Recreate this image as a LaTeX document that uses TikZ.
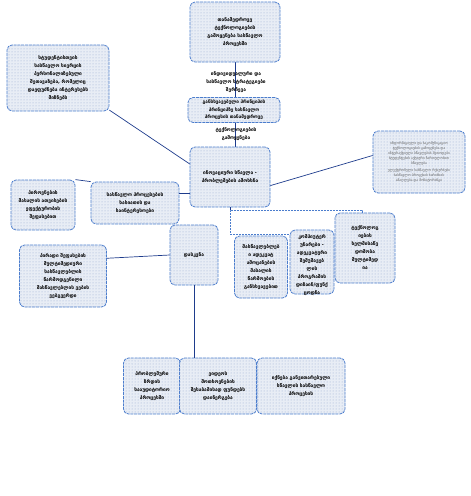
\documentclass[tikz,border=0pt]{standalone}
\usepackage{fontspec}
\newfontfamily\geofont{DejaVu Sans}
\usetikzlibrary{positioning,backgrounds,patterns}
\definecolor{boxfill}{RGB}{232,237,245}
\definecolor{boxdots}{RGB}{150,170,210}
\definecolor{boxline}{RGB}{75,125,205}
\definecolor{linkline}{RGB}{30,60,140}

\begin{document}
\begin{tikzpicture}[x=1pt, y=-1pt,
    cardbox/.style={draw=boxline, fill=boxfill, postaction={pattern=dots, pattern color=boxdots}, rounded corners=5pt, dash pattern=on 3pt off 0.8pt, line width=0.8pt, align=center, inner sep=1pt, font=\geofont\bfseries\fontsize{4.8}{8}\selectfont},
    barbox/.style={draw=boxline, fill=white, dash pattern=on 2pt off 1pt, line width=0.7pt},
    tinytext/.style={align=center, inner sep=0pt, font=\geofont\fontsize{3.4}{5}\selectfont, text=black!65},
    plaintext/.style={align=center, inner sep=0pt, font=\geofont\bfseries\fontsize{4.8}{8}\selectfont},
    link/.style={draw=linkline, line width=0.7pt}
]
\useasboundingbox (0,0) rectangle (471,496);

% upper column
\node[cardbox, minimum width=90pt, minimum height=60pt] (top) at (235,32) {თანამედროვე\\ტექნოლოგიების\\გამოყენება სასწავლო\\პროცესში};
\node[plaintext] (strat) at (236,82) {ინდივიდუალური და\\სასწავლო სტრატეგიები\\შერჩევა};
\node[cardbox, minimum width=92pt, minimum height=25pt, inner sep=0pt, font=\geofont\bfseries\fontsize{4.6}{7.4}\selectfont] (princ) at (234,110) {განსხვავებული პრინციპის\\პრინციპზე სასწავლო\\პროცესის თანამედროვე};
\node[plaintext] (princrest) at (236,134) {ტექნოლოგიების\\გამოყენება};
\node[cardbox, minimum width=80pt, minimum height=60pt] (cen) at (230,177) {ინოვაციური სწავლა -\\პრობლემების ამოხსნა};

% side boxes
\node[cardbox, minimum width=102pt, minimum height=66pt] (lefttop) at (58,78) {სტუდენტისთვის\\სასწავლო სივრცის\\პერსონალიზებული\\შეთავაზება, რომელიც\\დაეფუძნება ინტერესებს\\მიზნებს};
\node[cardbox, minimum width=92pt, minimum height=62pt] (right) at (419,162) {};
\node[tinytext] (righttext) at (419,162) {ინფორმაციული და საკომუნიკაციო\\ტექნოლოგიების გამოყენება და\\ინტერაქტიული სწავლების მეთოდები\\სტუდენტების აქტიური ჩართულობით\\სწავლება\\[2pt]ელექტრონული სასწავლო რესურსები\\სასწავლო პროცესის ხარისხის\\ამაღლება და მონიტორინგი};
\node[cardbox, minimum width=64pt, minimum height=50pt] (pirov) at (43,205) {პიროვნების\\მასალის ათვისების\\ეფექტურობის\\შეფასებით};
\node[cardbox, minimum width=88pt, minimum height=42pt] (sasw) at (135,203) {სასწავლო პროცესების\\ხასიათის და\\საინტერესოები};
\node[cardbox, minimum width=48pt, minimum height=60pt] (dask) at (194,255) {დასკვნა};
\node[cardbox, minimum width=87pt, minimum height=62pt] (leftlow) at (63,276) {პირადი შეფასების\\მულტიმედიური\\სასწავლებლის\\წარმოდგენილი\\მასწავლებლის ვების\\ვებგვერდი};

% right group
\node[barbox, minimum width=132pt, minimum height=24pt] (bar) at (296,222) {};
\node[cardbox, minimum width=53pt, minimum height=62pt] (mas) at (261,267) {მასწავლებლებ\\ი ადეკვატ\\ამოცანების\\მასალის\\წარმოების\\განსხვავებით};
\node[cardbox, minimum width=44pt, minimum height=64pt] (komp) at (312,262) {};
\node[plaintext] (komptext) at (312,265) {კომპიუტერ\\უნარები -\\ადეკვატური\\შემუშავებ\\ლის\\პროგრამის\\დიზაინ/ფუნქ\\ცოდნა};
\node[cardbox, minimum width=60pt, minimum height=70pt] (tech) at (365,248) {ტექნოლოგ\\იების\\ხელმისაწვ\\დომობა\\მულტიმედ\\ია};

% bottom row
\node[cardbox, minimum width=57pt, minimum height=56pt] (bot1) at (152,386) {პრობლემური\\ზრდის\\სააუდიტორიო\\პროცესში};
\node[cardbox, minimum width=77pt, minimum height=56pt] (bot2) at (218,386) {ვიდეოს\\მოთხოვნების\\შესაბამისად ფუნდებს\\დაინერგება};
\node[cardbox, minimum width=88pt, minimum height=56pt] (bot3) at (301,386) {იქნება განვითარებული\\სწავლის სასწავლო\\პროცესის};

% connectors
\begin{scope}[on background layer]
\draw[link] (top.south) -- (top.south |- cen.north);
\end{scope}
\draw[link] (lefttop.-32) -- (cen.162);
\draw[link] (cen.-12) -- (right.172);
\draw[link] (pirov.north east) -- (sasw.north west);
\draw[link] (sasw.12) -- (sasw.12 -| cen.west);
\draw[link] (cen.south) -- (cen.south |- bar.north);
\draw[link] (leftlow.22) -- (dask.west);
\draw[link] (dask.south) -- (dask.south |- bot2.north);

\end{tikzpicture}
\end{document}
